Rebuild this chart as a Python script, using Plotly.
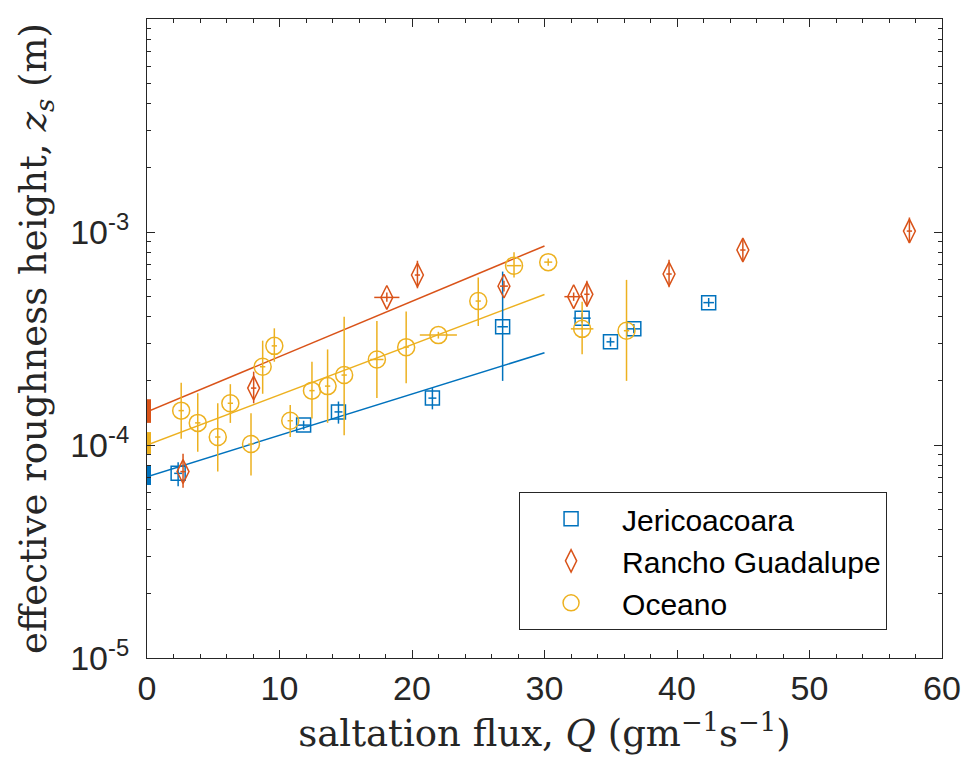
import plotly.graph_objects as go

# ---------------- data ----------------
jeri_Q = [2.35, 11.82, 14.45, 21.54, 26.84, 32.84, 34.98, 36.74, 42.39]
jeri_z = [7.36e-5, 1.24e-4, 1.43e-4, 1.66e-4, 3.59e-4, 3.94e-4, 3.05e-4, 3.51e-4, 4.66e-4]
jeri_z_hi = [8.3e-5, 1.30e-4, 1.60e-4, 1.85e-4, 6.52e-4, 4.15e-4, 3.2e-4, 3.7e-4, 4.9e-4]
jeri_z_lo = [6.4e-5, 1.18e-4, 1.26e-4, 1.47e-4, 2.0e-4, 3.75e-4, 2.9e-4, 3.35e-4, 4.45e-4]
jeri_Q_err = [0.3, 0.5, 0.3, 0.3, 0.4, 0.65, 0.3, 0.5, 0.4]

rancho_Q = [2.72, 8.05, 18.1, 20.41, 26.94, 32.2, 33.2, 39.4, 44.97, 57.54]
rancho_z = [7.5e-5, 1.85e-4, 4.93e-4, 6.28e-4, 5.57e-4, 4.97e-4, 5.1e-4, 6.35e-4, 8.23e-4, 1.01e-3]
rancho_z_hi = [9.1e-5, 2.21e-4, 5.2e-4, 7.33e-4, 5.9e-4, 5.2e-4, 5.9e-4, 7.4e-4, 9.25e-4, 1.17e-3]
rancho_z_lo = [6.3e-5, 1.57e-4, 4.7e-4, 5.44e-4, 5.25e-4, 4.75e-4, 4.46e-4, 5.5e-4, 7.33e-4, 8.9e-4]
rancho_Q_err = [0.2, 0.2, 0.95, 0.2, 0.3, 0.7, 0.2, 0.2, 0.2, 0.2]

oce_Q = [2.58, 3.83, 5.34, 6.29, 7.85, 8.73, 9.61, 10.81, 12.45, 13.63, 14.88,
         17.35, 19.56, 21.99, 25.0, 27.7, 30.28, 32.84, 36.19]
oce_z = [1.45e-4, 1.27e-4, 1.09e-4, 1.57e-4, 1.01e-4, 2.33e-4, 2.92e-4, 1.30e-4,
         1.80e-4, 1.89e-4, 2.13e-4, 2.52e-4, 2.88e-4, 3.28e-4, 4.74e-4, 6.95e-4,
         7.22e-4, 3.51e-4, 3.44e-4]
oce_z_hi = [1.96e-4, 1.75e-4, 1.57e-4, 1.93e-4, 1.41e-4, 3.09e-4, 3.53e-4, 1.54e-4,
            2.46e-4, 2.81e-4, 4.0e-4, 3.82e-4, 4.23e-4, 3.4e-4, 6.12e-4, 8.03e-4,
            7.5e-4, 4.71e-4, 5.96e-4]
oce_z_lo = [1.07e-4, 0.93e-4, 7.5e-5, 1.27e-4, 7.2e-5, 1.74e-4, 2.46e-4, 1.09e-4,
            1.33e-4, 1.27e-4, 1.11e-4, 1.66e-4, 1.95e-4, 3.16e-4, 3.62e-4, 6.12e-4,
            6.95e-4, 2.67e-4, 2.0e-4]
oce_Q_err = [0.2, 0.2, 0.2, 0.2, 0.2, 0.2, 0.2, 0.2, 0.2, 0.2, 0.2,
             0.5, 0.2, 1.4, 0.2, 0.55, 0.3, 0.85, 0.2]

# exponential fits (straight lines on the log axis), Q = 0 .. 30
fit_Q = [0, 30]
fit_jeri = [7.1e-5, 2.71e-4]
fit_rancho = [1.43e-4, 8.6e-4]
fit_oce = [1.0e-4, 5.09e-4]

# intercept uncertainty ranges at Q = 0  (low, high)
icpt_jeri = [6.49e-5, 8.05e-5]
icpt_rancho = [1.27e-4, 1.64e-4]
icpt_oce = [9.08e-5, 1.15e-4]

names = ["Jericoacoara", "Rancho Guadalupe", "Oceano"]
x_ticks = [0, 10, 20, 30, 40, 50, 60]
y_ticks = [1e-5, 1e-4, 1e-3, 1e-2]
y_ticktext = ["10<sup>-5</sup>", "10<sup>-4</sup>", "10<sup>-3</sup>", "10<sup>-2</sup>"]

C_BLUE, C_RED, C_YEL = "#0072BD", "#D95319", "#EDB120"

fig = go.Figure()

# fit lines
for fz, col in [(fit_jeri, C_BLUE), (fit_rancho, C_RED), (fit_oce, C_YEL)]:
    fig.add_trace(go.Scatter(x=fit_Q, y=fz, mode="lines",
                             line=dict(color=col, width=1.5),
                             showlegend=False, hoverinfo="skip"))

# intercept bars at Q = 0
for ic, col in [(icpt_jeri, C_BLUE), (icpt_rancho, C_RED), (icpt_oce, C_YEL)]:
    fig.add_trace(go.Scatter(x=[fit_Q[0]], y=[ic[0]], mode="markers",
                             marker=dict(size=1, opacity=0),
                             error_y=dict(type="data", symmetric=False,
                                          array=[ic[1] - ic[0]], arrayminus=[0],
                                          color=col, thickness=8, width=0),
                             cliponaxis=False, showlegend=False, hoverinfo="skip"))

def pts(Q, z, hi, lo, qe, name, col, sym, size):
    return go.Scatter(
        x=Q, y=z, mode="markers", name=name, cliponaxis=False,
        marker=dict(symbol=sym, size=size, color=col,
                    line=dict(color=col, width=1.5)),
        error_y=dict(type="data", symmetric=False,
                     array=[h - v for h, v in zip(hi, z)],
                     arrayminus=[v - l for v, l in zip(z, lo)],
                     color=col, thickness=1.5, width=0),
        error_x=dict(type="data", array=qe, color=col, thickness=1.5, width=0),
    )

fig.add_trace(pts(jeri_Q, jeri_z, jeri_z_hi, jeri_z_lo, jeri_Q_err, names[0], C_BLUE, "square-open", 14))
fig.add_trace(pts(rancho_Q, rancho_z, rancho_z_hi, rancho_z_lo, rancho_Q_err, names[1], C_RED, "diamond-tall-open", 17))
fig.add_trace(pts(oce_Q, oce_z, oce_z_hi, oce_z_lo, oce_Q_err, names[2], C_YEL, "circle-open", 17))

axis_col = "#262626"
tick_font = dict(family="Liberation Sans, Arial, sans-serif", size=34, color="#262626")
title_font = dict(family="DejaVu Serif, serif", size=37, color="#262626")

fig.update_layout(
    width=970, height=765,
    margin=dict(l=147, r=28, t=19, b=107, autoexpand=False),
    paper_bgcolor="white", plot_bgcolor="white",
    showlegend=True,
    legend=dict(x=0.468, y=0.26, xanchor="left", yanchor="top",
                bgcolor="white", bordercolor=axis_col, borderwidth=1,
                font=dict(family="Liberation Sans, Arial, sans-serif", size=30, color="black"),
                itemwidth=92, tracegroupgap=0,
                entrywidth=294, entrywidthmode="pixels"),
    xaxis=dict(range=[0, 60], tickmode="array", tickvals=x_ticks, automargin=False,
               showline=True, linecolor=axis_col, linewidth=1, mirror="allticks",
               ticks="inside", ticklen=8, tickcolor=axis_col, showgrid=False, zeroline=False,
               tickfont=tick_font,
               minor=dict(dtick=2, tick0=0, ticks="inside", ticklen=4, tickcolor=axis_col, showgrid=False),
               title=dict(text="saltation flux, <i>Q</i> (gm<sup>−1</sup>s<sup>−1</sup>)",
                          font=title_font, standoff=0)),
    yaxis=dict(type="log", range=[-5, -2], tickmode="array", tickvals=y_ticks,
               ticktext=y_ticktext, automargin=False, ticklabelstandoff=10,
               showline=True, linecolor=axis_col, linewidth=1, mirror="allticks",
               ticks="inside", ticklen=8, tickcolor=axis_col, showgrid=False, zeroline=False,
               tickfont=tick_font,
               minor=dict(dtick="D1", ticks="inside", ticklen=4, tickcolor=axis_col, showgrid=False),
               title=dict(text="effective roughness height, <i>z<sub>s</sub></i> (m)",
                          font=title_font, standoff=12)),
)

# remove the browser's default 8px page margin so the figure sits at the window origin
fig.write_html("out.html", config={"displayModeBar": False},
               post_script="document.body.style.margin='0';")
